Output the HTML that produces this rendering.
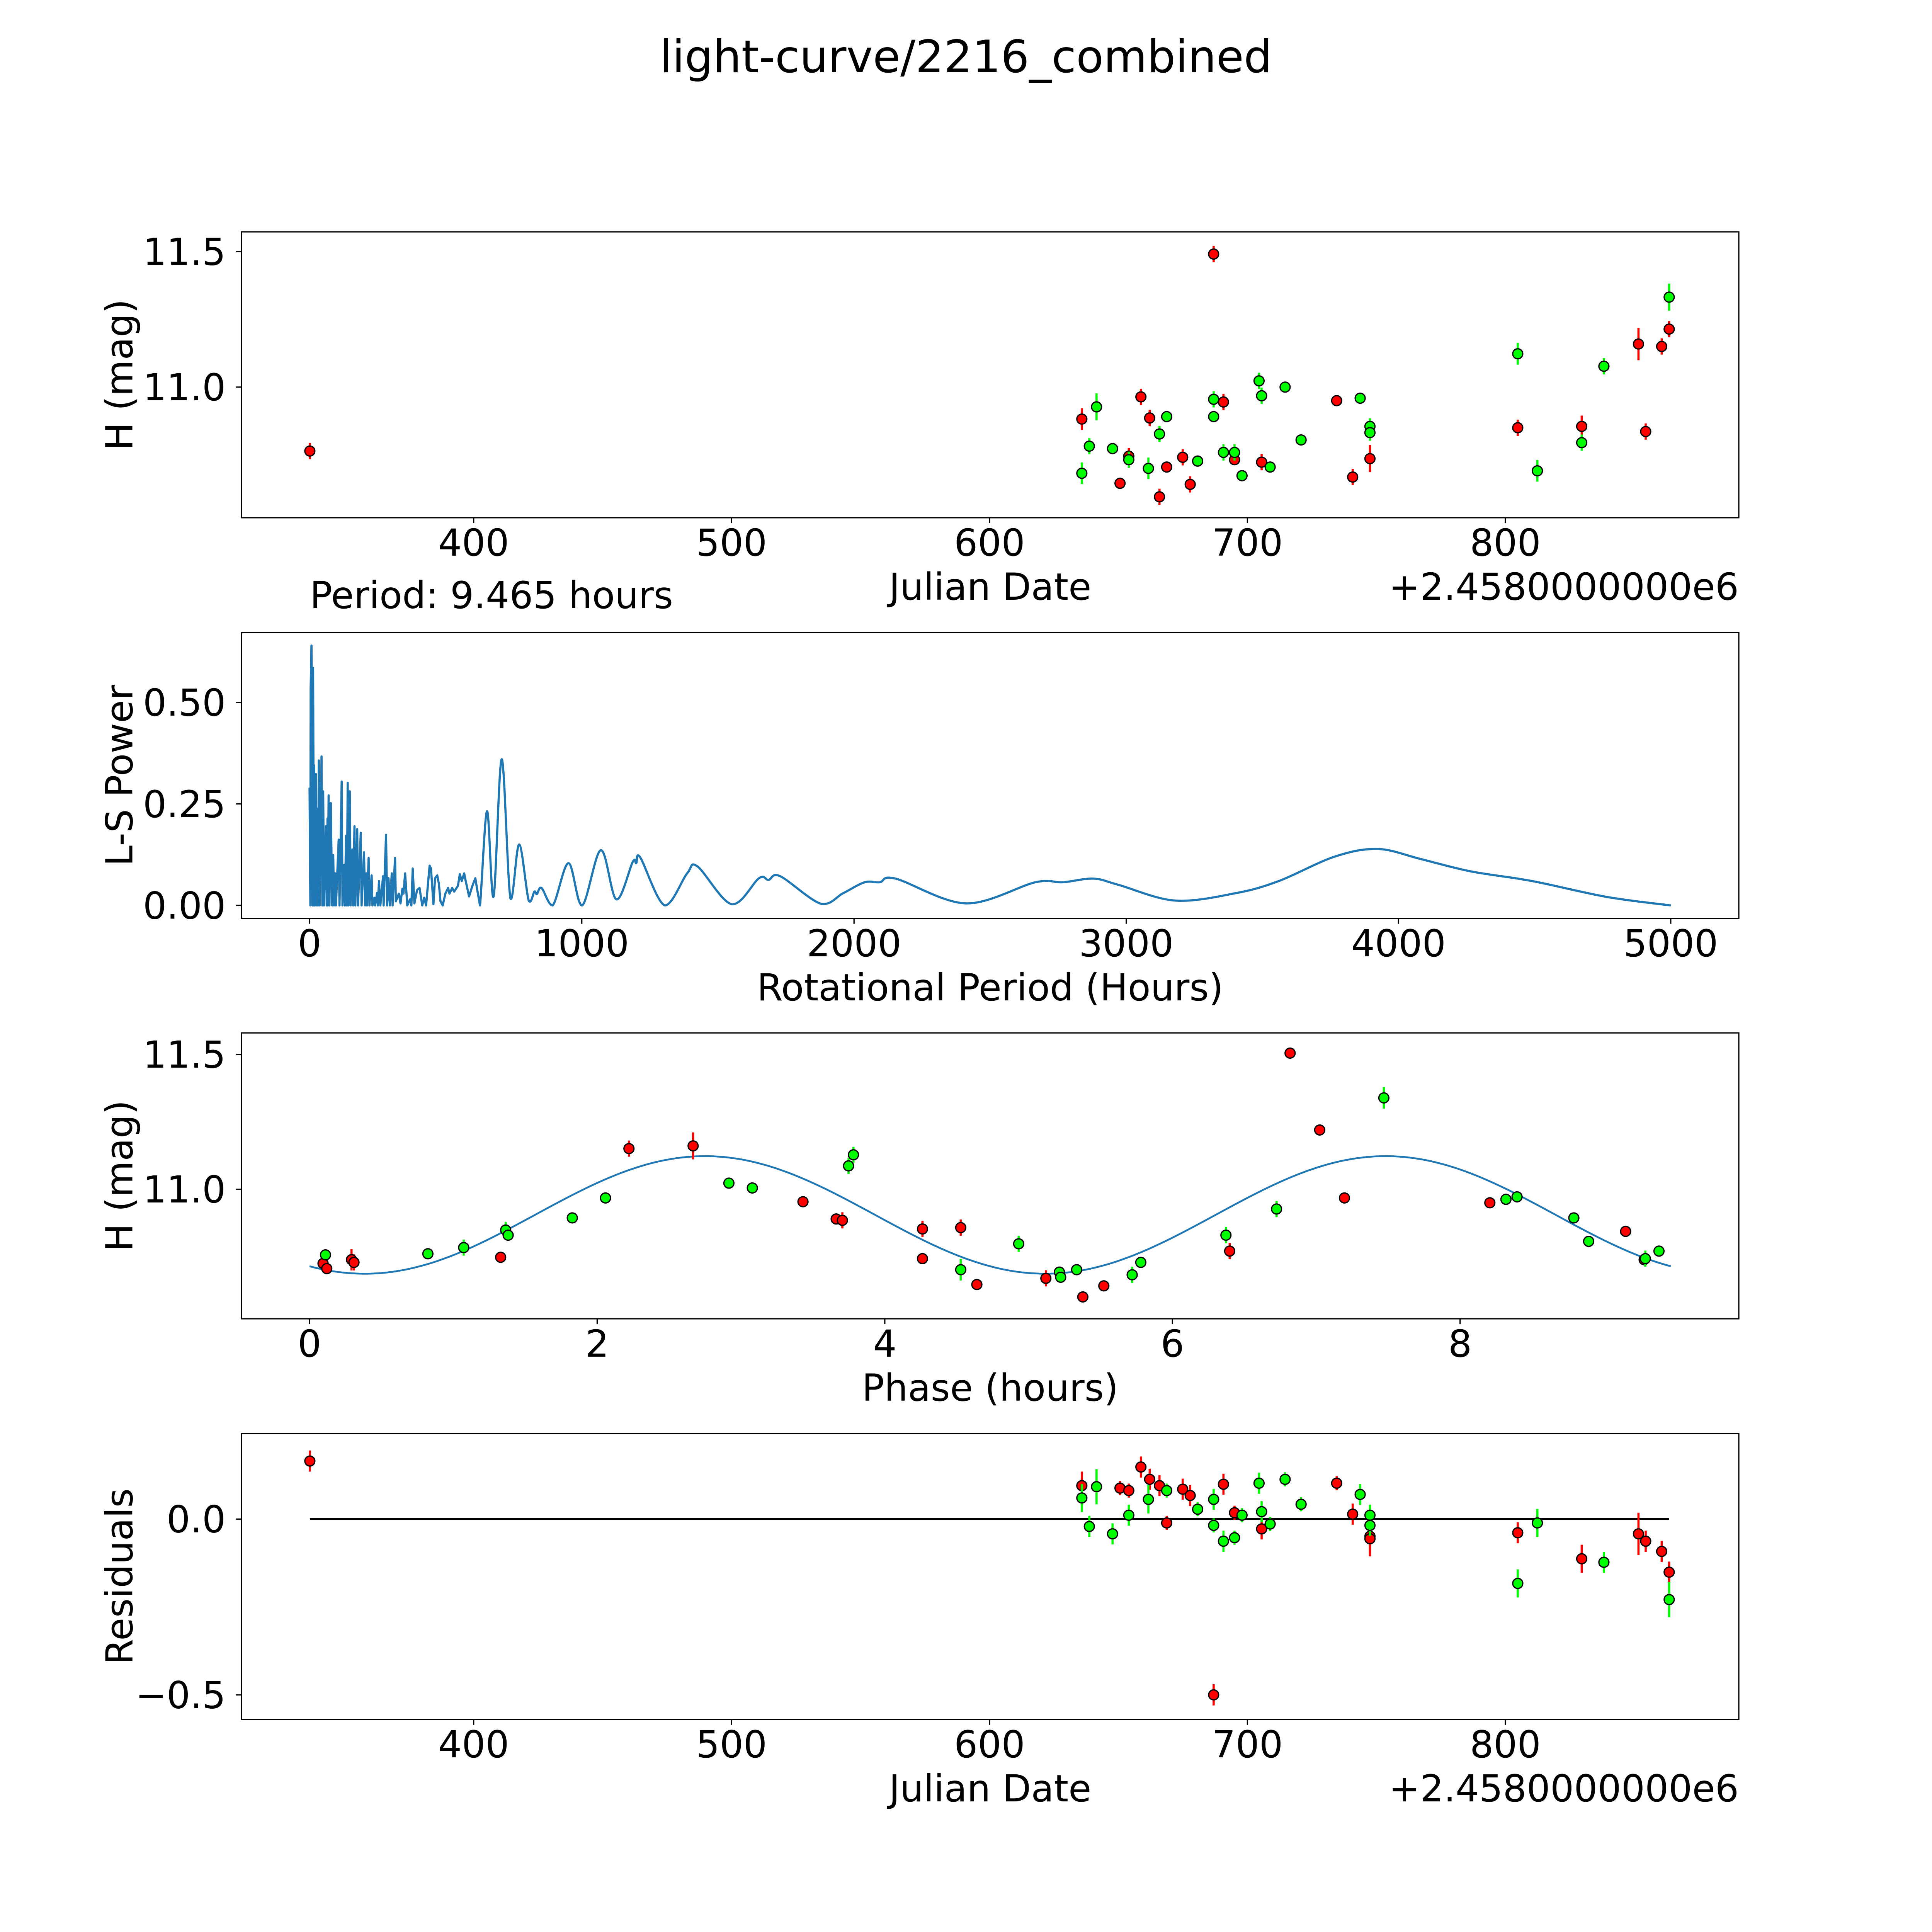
<!DOCTYPE html>
<html><head><meta charset="utf-8"><style>
html,body{margin:0;padding:0;background:#fff;overflow:hidden;width:100%;height:100%}
#fig{position:fixed;left:0;top:0;width:100vw;height:100vh;display:block}
svg text{font-family:"DejaVu Sans","Liberation Sans",sans-serif;fill:#000}
</style></head><body>
<svg id="fig" xmlns="http://www.w3.org/2000/svg" viewBox="0 0 5400 5400" preserveAspectRatio="none">
<rect x="0" y="0" width="5400" height="5400" fill="#fff"/>
<text x="2700" y="202" font-size="125" text-anchor="middle">light-curve/2216_combined</text>
</svg>
<script>
// ---- Panel 1: light curve ----
const redJD=[336.5,635.8,650.6,654.0,658.7,662.1,665.9,668.7,674.9,677.8,686.9,690.7,695.0,705.5,734.6,740.8,747.5,804.8,829.6,851.6,854.4,860.6,863.5];
const redMag=[10.764,10.882,10.645,10.745,10.964,10.886,10.595,10.705,10.741,10.641,11.491,10.945,10.732,10.723,10.95,10.668,10.736,10.85,10.855,11.159,10.836,11.15,11.214];
const redErr=[0.03,0.04,0.02,0.03,0.03,0.03,0.03,0.02,0.03,0.03,0.03,0.03,0.02,0.03,0.02,0.03,0.05,0.03,0.04,0.06,0.03,0.03,0.03];
const greenJD=[635.8,638.7,641.5,647.7,654.0,661.6,665.9,668.7,680.7,686.9,686.9,690.7,695.0,697.9,704.5,705.5,708.8,714.6,720.8,743.7,747.5,747.5,804.8,812.4,829.6,838.2,863.5];
const greenMag=[10.682,10.782,10.927,10.773,10.732,10.7,10.827,10.891,10.727,10.955,10.891,10.759,10.759,10.673,11.023,10.968,10.705,11.0,10.805,10.959,10.855,10.832,11.123,10.691,10.795,11.077,11.332];
const greenErr=[0.04,0.03,0.05,0.02,0.03,0.04,0.03,0.02,0.02,0.03,0.02,0.03,0.03,0.02,0.03,0.03,0.02,0.02,0.02,0.02,0.03,0.03,0.04,0.04,0.03,0.03,0.05];
const jdTicks=[400,500,600,700,800];
const magTicks=[11.0,11.5];
// ---- Panel 2: periodogram ----
const lsPeriod=[0,3,4,7,10,11,13,16,17,20,23,26,29,31,34,37,44,47,50,53,60,63,66,67,70,73,78,83,87,90,94,97,107,110,118,121,127,130,134,137,140,143,148,151,157,160,165,168,175,178,188,191,200,204,208,211,217,220,228,231,238,241,248,251,255,260,270,272,281,285,290,295,302,305,314,317,328,334,341,345,351,359,369,374,379,385,395,404,414,421,428,441,446,455,461,469,475,481,489,499,509,514,524,531,545,552,559,568,573,586,598,609,616,626,652,676,706,738,770,805,826,835,852,893,951,1001,1070,1127,1187,1200,1215,1305,1387,1425,1551,1651,1686,1729,1879,1960,2039,2094,2153,2411,2666,2766,2879,2970,3179,3401,3560,3765,3924,4083,4264,4491,4764,5000];
const lsPower=[0.290,0,0.533,0.640,0.438,0,0.585,0,0.345,0,0.324,0,0.238,0,0.357,0,0.367,0,0.281,0,0.195,0,0.214,0,0.271,0,0.252,0,0.124,0,0.079,0,0.162,0,0.305,0,0.100,0,0.172,0,0.302,0,0.281,0,0.138,0,0.195,0,0.188,0,0.179,0,0.131,0,0.079,0,0.117,0,0.074,0,0.019,0,0.031,0,0.060,0,0.072,0,0.174,0,0.067,0,0.079,0,0.117,0.010,0.029,0.005,0.041,0.029,0.079,0,0.015,0,0.091,0.005,0.038,0.043,0,0.019,0,0.098,0.091,0.003,0.067,0.074,0.053,0.010,0,0.029,0.043,0.029,0.043,0.034,0.048,0.077,0.060,0.079,0.062,0.022,0.048,0.067,0.038,0,0.232,0.022,0.36,0.017,0.15,0.012,0.034,0.028,0.043,0,0.104,0,0.136,0.015,0.107,0.104,0.118,0,0.079,0.096,0.003,0.067,0.063,0.072,0.004,0.03,0.057,0.057,0.066,0.005,0.057,0.057,0.066,0.051,0.012,0.03,0.06,0.12,0.139,0.114,0.084,0.06,0.021,0];
const periodTicks=[0,1000,2000,3000,4000,5000];
const powerTicks=[0.00,0.25,0.50];
// ---- Panel 3: phased ----
const redPhase=[0.094,0.120,0.292,0.309,1.329,2.221,2.667,3.431,3.662,3.705,4.262,4.262,4.528,4.640,5.120,5.377,5.523,6.398,6.818,7.024,7.196,8.207,9.151,9.280];
const redPhaseMag=[10.725,10.706,10.739,10.729,10.748,11.151,11.161,10.954,10.89,10.885,10.743,10.853,10.858,10.647,10.67,10.601,10.642,10.771,11.505,11.22,10.968,10.95,10.844,10.739];
const redPhaseErr=[0.02,0.02,0.04,0.03,0.02,0.03,0.05,0.02,0.02,0.03,0.02,0.03,0.03,0.02,0.03,0.02,0.02,0.03,0.02,0.02,0.02,0.02,0.02,0.02];
const greenPhase=[0.111,0.823,1.072,1.364,1.381,1.827,2.058,2.916,3.079,3.748,3.782,4.528,4.931,5.214,5.223,5.334,5.720,5.780,6.372,6.724,7.470,8.319,8.396,8.791,8.894,9.288,9.383];
const greenPhaseMag=[10.757,10.761,10.784,10.849,10.83,10.894,10.968,11.023,11.005,11.087,11.128,10.702,10.798,10.693,10.674,10.702,10.683,10.729,10.83,10.927,11.339,10.963,10.972,10.894,10.807,10.743,10.771];
const greenPhaseErr=[0.02,0.02,0.03,0.03,0.02,0.02,0.02,0.02,0.02,0.03,0.03,0.04,0.03,0.02,0.02,0.02,0.03,0.02,0.03,0.03,0.04,0.02,0.02,0.02,0.02,0.03,0.02];
const fitParams=[10.905,0.218,2.75,4.7325]; // mean, amplitude, peak phase, harmonic period
const periodHours=9.465;
const phaseTicks=[0,2,4,6,8];
// ---- Panel 4: residuals ----
const redResJD=[336.5,635.8,650.6,654.0,658.7,662.1,665.9,668.7,674.9,677.8,686.9,690.7,695.0,705.5,734.6,740.8,747.5,747.5,804.8,829.6,851.6,854.4,860.6,863.5];
const redRes=[0.165,0.095,0.088,0.081,0.148,0.113,0.095,-0.011,0.085,0.067,-0.5,0.099,0.018,-0.028,0.102,0.014,-0.049,-0.056,-0.039,-0.113,-0.042,-0.063,-0.092,-0.151];
const redResErr=[0.03,0.04,0.02,0.02,0.03,0.03,0.03,0.02,0.03,0.03,0.03,0.03,0.02,0.03,0.02,0.03,0.05,0.05,0.03,0.04,0.06,0.03,0.03,0.03];
const greenResJD=[635.8,638.7,641.5,647.7,654.0,661.6,668.7,680.7,686.9,686.9,690.7,695.0,697.9,704.5,705.5,708.8,714.6,720.8,743.7,747.5,747.5,804.8,812.4,838.2,863.5];
const greenRes=[0.06,-0.021,0.092,-0.042,0.011,0.056,0.081,0.028,0.056,-0.018,-0.063,-0.053,0.011,0.102,0.021,-0.014,0.113,0.042,0.07,0.011,-0.018,-0.183,-0.011,-0.123,-0.229];
const greenResErr=[0.04,0.03,0.05,0.03,0.03,0.04,0.02,0.02,0.03,0.02,0.03,0.02,0.02,0.03,0.03,0.02,0.02,0.02,0.03,0.03,0.03,0.04,0.04,0.03,0.05];
const resTicks=[-0.5,0.0];

const NS="http://www.w3.org/2000/svg";
const fig=document.getElementById('fig');
function mk(tag,attrs,parent){const e=document.createElementNS(NS,tag);for(const k in attrs)e.setAttribute(k,attrs[k]);(parent||fig).appendChild(e);return e;}
const L=675,R=4860,H=799,FS=104;
function axis(top,xlim,ylim){
  return {top:top,sx:v=>L+(v-xlim[0])/(xlim[1]-xlim[0])*(R-L),sy:v=>top+H-(v-ylim[0])/(ylim[1]-ylim[0])*H};
}
function frame(ax,name,xt,xfmt,yt,yfmt,xlabel,ylabel){
  const g=mk('g',{});
  
  
  const b=ax.top+H;
  xt.forEach(v=>{const x=ax.sx(v);
    const t=mk('line',{x1:x,x2:x,y1:b,y2:b+15,stroke:'#000','stroke-width':3.5},g);
    
    
    const l=mk('text',{x:x,y:b+106,'font-size':FS,'text-anchor':'middle'},g);l.textContent=xfmt(v);
    
    });
  yt.forEach(v=>{const y=ax.sy(v);
    const t=mk('line',{x1:L-15,x2:L,y1:y,y2:y,stroke:'#000','stroke-width':3.5},g);
    
    
    const l=mk('text',{x:631,y:y+37,'font-size':FS,'text-anchor':'end'},g);l.textContent=yfmt(v);
    
    });
  const xl=mk('text',{x:(L+R)/2,y:b+229,'font-size':FS,'text-anchor':'middle'},g);xl.textContent=xlabel;
  
  
  const cy=ax.top+H/2;
  const yl=mk('text',{x:0,y:0,'font-size':FS,'text-anchor':'middle',transform:`translate(370,${cy}) rotate(-90)`},g);yl.textContent=ylabel;
  
  
  return g;
}
function border(ax){
  const r=mk('rect',{x:L,y:ax.top,width:R-L,height:H,fill:'none',stroke:'#000','stroke-width':3.5});
  
  
}
function points(ax,xs,ys,es,color,name){
  const g=mk('g',{});
  
  
  xs.forEach((v,i)=>{const x=ax.sx(v);
    const e=mk('line',{x1:x,x2:x,y1:ax.sy(ys[i]-es[i]),y2:ax.sy(ys[i]+es[i]),stroke:color,'stroke-width':6},g);
    
    });
  xs.forEach((v,i)=>{
    const c=mk('circle',{cx:ax.sx(v),cy:ax.sy(ys[i]),r:14,fill:color,stroke:'#000','stroke-width':3.5},g);
    
    });
}
const jdLim=[310,890.5];
const fmt1=v=>v.toFixed(1), fmt2=v=>v.toFixed(2), fmt0=v=>String(v);
// Panel 1
const a1=axis(648,jdLim,[10.518,11.573]);
frame(a1,'light-curve-axes',jdTicks,fmt0,magTicks,fmt1,'Julian Date','H (mag)');
points(a1,redJD,redMag,redErr,'#ff0000','red-series');
points(a1,greenJD,greenMag,greenErr,'#00ff00','green-series');
border(a1);
let off=mk('text',{x:R,y:648+H+229,'font-size':FS,'text-anchor':'end'});off.textContent='+2.4580000000e6';


// Panel 2
const a2=axis(1768,[-250,5250],[-0.032,0.672]);
frame(a2,'periodogram-axes',periodTicks,fmt0,powerTicks,fmt2,'Rotational Period (Hours)','L-S Power');
const P=lsPeriod.map((p,i)=>[a2.sx(p),a2.sy(lsPower[i])]);
let pd='M'+P[0][0].toFixed(1)+' '+P[0][1].toFixed(1);
for(let i=1;i<P.length;i++){
  if(lsPeriod[i]<=626){pd+=' L'+P[i][0].toFixed(1)+' '+P[i][1].toFixed(1);continue;}
  const p0=P[i-2]||P[i-1],p1=P[i-1],p2=P[i],p3=P[i+1]||P[i];
  const c1x=p1[0]+(p2[0]-p0[0])/6,c1y=p1[1]+(p2[1]-p0[1])/6;
  const c2x=p2[0]-(p3[0]-p1[0])/6,c2y=p2[1]-(p3[1]-p1[1])/6;
  pd+=` C${c1x.toFixed(1)} ${Math.min(c1y,a2.sy(0)).toFixed(1)} ${c2x.toFixed(1)} ${Math.min(c2y,a2.sy(0)).toFixed(1)} ${p2[0].toFixed(1)} ${p2[1].toFixed(1)}`;
}
const ls=mk('path',{d:pd,fill:'none',stroke:'#1f77b4','stroke-width':6,'stroke-linejoin':'round'});


border(a2);
let pt=mk('text',{x:866,y:1700,'font-size':FS});pt.textContent='Period: '+periodHours+' hours';


// Panel 3
const a3=axis(2887,[-0.473,9.938],[10.52,11.58]);
frame(a3,'phase-axes',phaseTicks,fmt0,magTicks,fmt1,'Phase (hours)','H (mag)');
let cd='';
for(let i=0;i<=300;i++){const p=periodHours*i/300;const m=fitParams[0]+fitParams[1]*Math.cos(2*Math.PI*(p-fitParams[2])/fitParams[3]);cd+=(i?'L':'M')+a3.sx(p).toFixed(1)+' '+a3.sy(m).toFixed(1)+' ';}
const fit=mk('path',{d:cd,fill:'none',stroke:'#1f77b4','stroke-width':5});


points(a3,redPhase,redPhaseMag,redPhaseErr,'#ff0000','red-phased-series');
points(a3,greenPhase,greenPhaseMag,greenPhaseErr,'#00ff00','green-phased-series');
border(a3);
// Panel 4
const a4=axis(4007,jdLim,[-0.57,0.243]);
frame(a4,'residuals-axes',jdTicks,fmt0,resTicks,fmt1,'Julian Date','Residuals');
const zl=mk('line',{x1:a4.sx(336.5),x2:a4.sx(863.5),y1:a4.sy(0),y2:a4.sy(0),stroke:'#000','stroke-width':5});


points(a4,redResJD,redRes,redResErr,'#ff0000','red-residuals');
points(a4,greenResJD,greenRes,greenResErr,'#00ff00','green-residuals');
border(a4);
let off2=mk('text',{x:R,y:4007+H+229,'font-size':FS,'text-anchor':'end'});off2.textContent='+2.4580000000e6';


document.querySelectorAll('text').forEach(t=>{t.textContent=t.textContent.replace(/^-/,'\u2212');});
</script>
</body></html>
